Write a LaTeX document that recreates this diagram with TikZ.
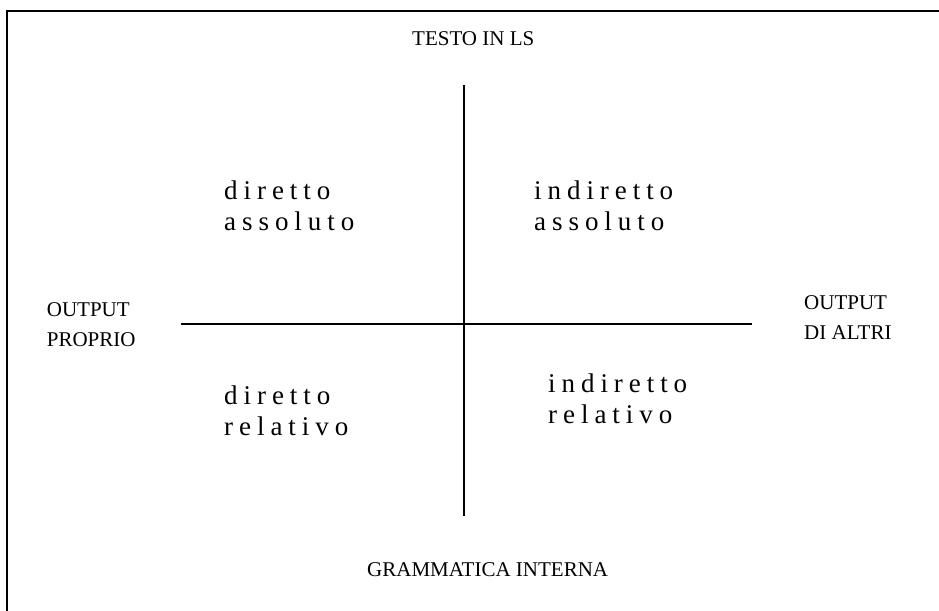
\documentclass[tikz,border=0pt]{standalone}
\usepackage{fontspec}
\setmainfont{Liberation Serif}
\begin{document}
\begin{tikzpicture}[x=1pt,y=-1pt,
  caps/.style={anchor=base west, inner sep=0pt, font=\fontsize{21}{30}\selectfont},
  quad/.style={anchor=base west, inner sep=0pt, font=\fontsize{27}{31}\selectfont\addfontfeatures{LetterSpace=22}},
  axisline/.style={line width=2pt, black},
  frameline/.style={line width=2pt, black}]
\path[use as bounding box] (0,0) rectangle (939,610);
\clip (0,0) rectangle (939,610);
% frame (right and bottom edges lie outside the picture)
\draw[frameline] (7,10.7) rectangle (980,650);
% axes
\coordinate (vt) at (463.7,85);
\coordinate (vb) at (463.7,516);
\coordinate (hl) at (181,323.7);
\coordinate (hr) at (751.7,323.7);
\draw[axisline] (vt) -- (vb);
\draw[axisline] (hl) -- (hr);
% axis labels
\node[caps] (top) at (412,46) {TESTO IN LS};
\node[caps] (bottom) at (367,576) {GRAMMATICA INTERNA};
\node[caps] (left) at (46.7,316) {\begin{tabular}[t]{@{}l@{}}OUTPUT\\PROPRIO\end{tabular}};
\node[caps] (right) at (804,309.3) {\begin{tabular}[t]{@{}l@{}}OUTPUT\\DI ALTRI\end{tabular}};
% quadrants
\node[quad] (q1) at (224,199.3) {\begin{tabular}[t]{@{}l@{}}diretto\\assoluto\end{tabular}};
\node[quad] (q2) at (534,199.3) {\begin{tabular}[t]{@{}l@{}}indiretto\\assoluto\end{tabular}};
\node[quad] (q3) at (224,404) {\begin{tabular}[t]{@{}l@{}}diretto\\relativo\end{tabular}};
\node[quad] (q4) at (548,392.3) {\begin{tabular}[t]{@{}l@{}}indiretto\\relativo\end{tabular}};
\end{tikzpicture}
\end{document}
